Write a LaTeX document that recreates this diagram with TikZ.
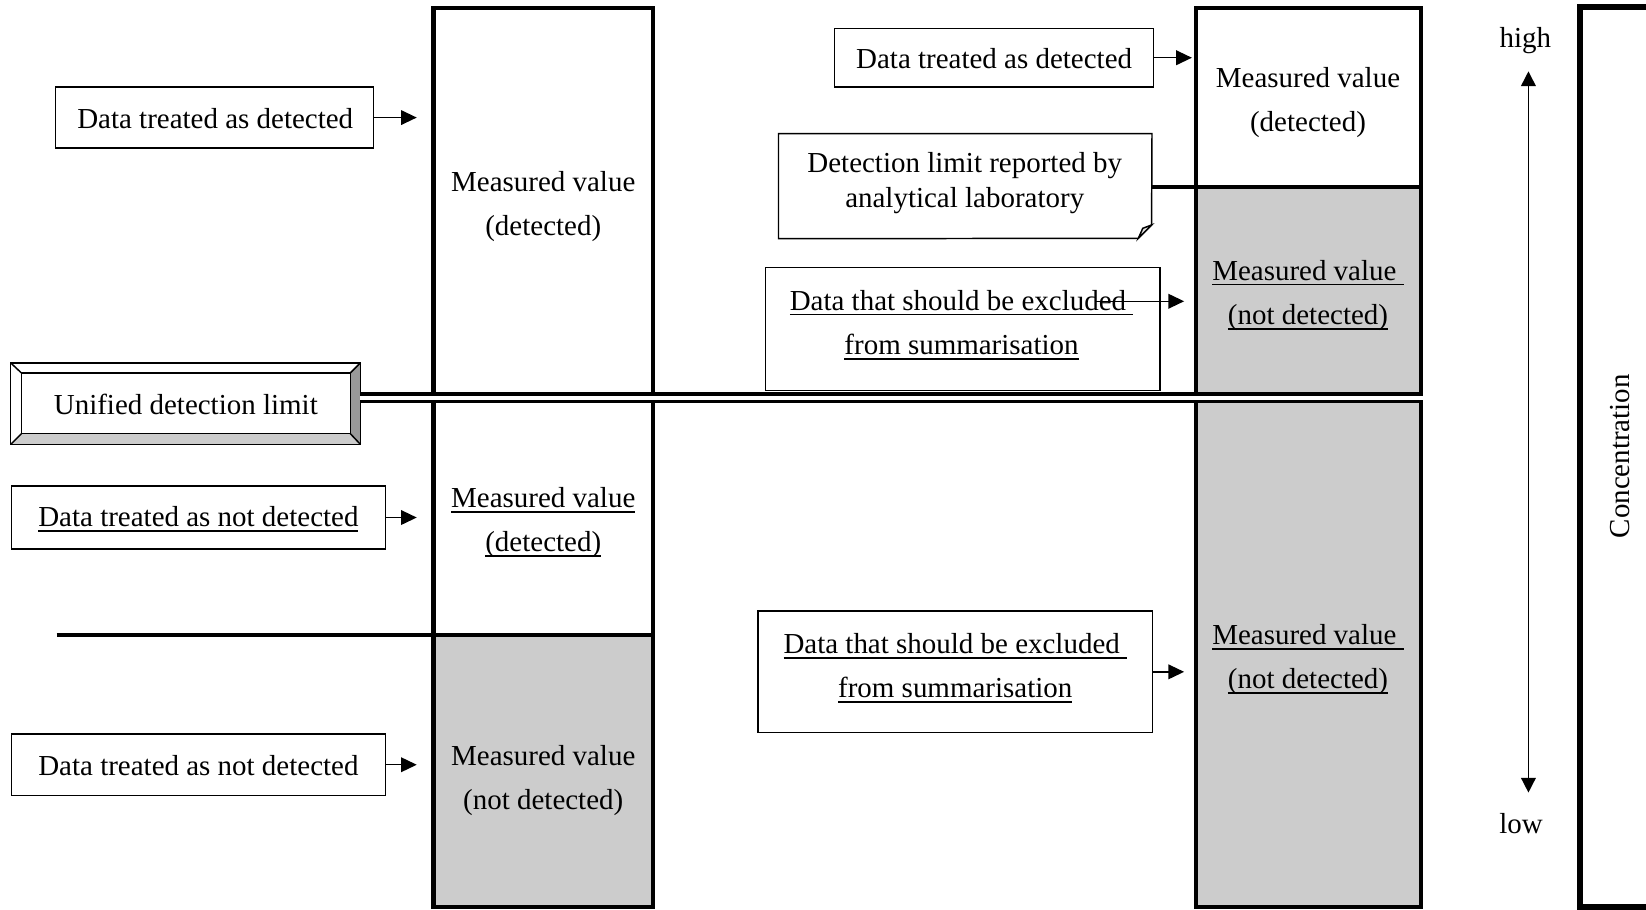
\documentclass[tikz,border=0pt]{standalone}
\usepackage{fontspec}
\setmainfont{Liberation Serif}
\usetikzlibrary{arrows.meta,fit}
\definecolor{fillgray}{HTML}{CCCCCC}
\definecolor{bevdark}{HTML}{999999}
\newcommand{\ulx}[1]{\leavevmode\setbox0\hbox{#1}\rlap{\rule[-0.17em]{\wd0}{0.055em}}\box0}
\tikzset{
  txt/.style={inner sep=0pt, align=center, yshift=-1.3pt, font=\fontsize{13.8}{21}\selectfont},
  txtsingle/.style={inner sep=0pt, align=center, yshift=-1.3pt, font=\fontsize{13.8}{16.5}\selectfont},
  tbox/.style={draw, line width=0.7pt, inner sep=0pt},
  bar/.style={draw, line width=2pt, inner sep=0pt},
  thickline/.style={line width=2pt},
  arr/.style={line width=0.7pt, -{Triangle[length=7.5pt,width=7pt]}},
  dblarr/.style={line width=0.7pt, {Triangle[length=7pt,width=7pt]}-{Triangle[length=7pt,width=7pt]}},
}
\begin{document}
\begin{tikzpicture}[x=0.5pt,y=-0.5pt]
\useasboundingbox (0,0) rectangle (1568,866);

% gray fills
\fill[fillgray] (413,605) rectangle (622,864);
\fill[fillgray] (1139,178) rectangle (1354,864);

% bars
\node[bar, fit={(413,8) (622,864)}] (lbar) {};
\node[bar, fit={(1139,8) (1354,864)}] (rbar) {};

% dividers
\coordinate (divL) at (54,605);
\draw[thickline] (divL) -- (divL -| lbar.east);
\coordinate (divR) at (1097,178);
\draw[thickline] (divR) -- (divR -| rbar.east);

% unified detection limit box (bevelled)
\node[inner sep=0pt, fit={(10.5,346) (343,423)}] (uframe) {};
\node[inner sep=0pt, fit={(20.7,355.6) (333.4,412.8)}] (uinner) {};
\fill[bevdark] (uinner.north east) -- (uframe.north east) -- (uframe.south east) -- (uinner.south east) -- cycle;
\fill[fillgray] (uframe.south west) -- (uinner.south west) -- (uinner.south east) -- (uframe.south east) -- cycle;
\draw[line width=0.7pt] (uframe.north west) rectangle (uframe.south east);
\draw[line width=0.7pt] (uinner.north west) rectangle (uinner.south east);
\draw[line width=0.7pt] (uframe.north west) -- (uinner.north west)
  (uframe.north east) -- (uinner.north east)
  (uframe.south west) -- (uinner.south west)
  (uframe.south east) -- (uinner.south east);
\node[txt] (uT) at (177,383) {Unified detection limit};

% unified double line
\coordinate (uline) at (343,378.75);
\draw[line width=1.6pt, double=white, double distance=1.9pt] (uline) -- (uline -| rbar.east);

% left text boxes
\node[tbox, fit={(53,83) (356,141)}] (tl) {};
\node[txt] (tlT) at (205,110) {Data treated as detected};
\node[tbox, fit={(11,463) (367,523)}] (ndu) {};
\node[txt] (nduT) at (189,492) {\ulx{Data treated as not detected}};
\node[tbox, fit={(11,699) (367,758)}] (nd) {};
\node[txt] (ndT) at (189,727) {Data treated as not detected};

\draw[arr, shorten >=7pt] (tl.east) -- (tl.east -| lbar.west);
\draw[arr, shorten >=7pt] (ndu.east) -- (ndu.east -| lbar.west);
\draw[arr, shorten >=7pt] (nd.east) -- (nd.east -| lbar.west);

% left bar texts
\node[txt] (lb1) at (517.5,194) {Measured value\\(detected)};
\node[txt] (lb2) at (517.5,495.5) {\ulx{Measured value}\\\ulx{(detected)}};
\node[txt] (lb3) at (517.5,741) {Measured value\\(not detected)};

% right text boxes
\node[tbox, fit={(795,27) (1099,83)}] (rtd) {};
\node[txt] (rtdT) at (947,53) {Data treated as detected};
\draw[arr, shorten >=0.8pt] (rtd.east) -- (rtd.east -| rbar.west);

% detection limit box with folded corner
\node[inner sep=0pt, fit={(742,127.7) (1097,227)}] (det) {};
\draw[line width=0.7pt] (det.north west) -- (det.north east) -- (1097,214.3) -- (1084.4,227) -- (det.south west) -- cycle;
\draw[line width=0.7pt, fill=fillgray!60] (1084.4,227) -- (1088.6,217.5) -- (1097,214.3) -- cycle;
\node[txtsingle] (detT) at (919,171.5) {Detection limit reported by\\analytical laboratory};

% excluded boxes
\node[tbox, fit={(729,255) (1105,372)}] (exA) {};
\node[txt] (exAT) at (916,307) {\ulx{Data that should be excluded\ }\\\ulx{from summarisation}};
\coordinate (exAstart) at (1044,287);
\draw[arr, shorten >=4.5pt] (exAstart) -- (exAstart -| rbar.west);

\node[tbox, fit={(722,582) (1098,698)}] (exB) {};
\node[txt] (exBT) at (910,634) {\ulx{Data that should be excluded\ }\\\ulx{from summarisation}};
\draw[arr, shorten >=4.5pt] (exB.east) -- (exB.east -| rbar.west);

% right bar texts
\node[txt] (rb1) at (1246,95.5) {Measured value\\(detected)};
\node[txt] (rb2) at (1246,279) {\ulx{Measured value\ }\\\ulx{(not detected)}};
\node[txt] (rb3) at (1246,626) {\ulx{Measured value\ }\\\ulx{(not detected)}};

% concentration scale
\node[txt] (high) at (1453,36) {high};
\node[txt] (low) at (1449,782) {low};
\coordinate (aTop) at (1456,68);
\coordinate (aBot) at (1456,755);
\draw[dblarr] (aTop) -- (aBot);
\draw[line width=2.8pt] (1590,7) -- (1505,7) -- (1505,864) -- (1590,864);
\node[txt, rotate=90, yshift=1.3pt, xshift=2.5pt] (conc) at (1546,437) {Concentration};
\end{tikzpicture}
\end{document}
